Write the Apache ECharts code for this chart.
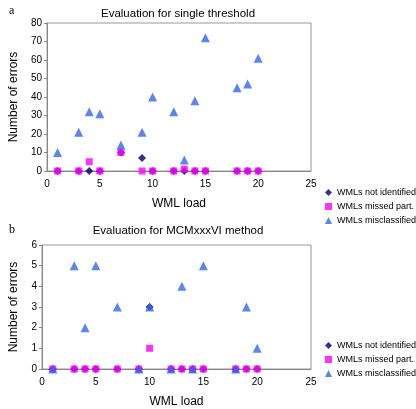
<!DOCTYPE html>
<html><head><meta charset="utf-8">
<script src="https://cdn.jsdelivr.net/npm/echarts@6/dist/echarts.min.js"></script>
<style>html,body{margin:0;padding:0;background:#fff}#c{width:416px;height:409px}</style>
</head><body><div id="c"></div>
<script>
var names = ['WMLs not identified', 'WMLs missed part.', 'WMLs misclassified'];
var loadsA = [1, 3, 4, 5, 7, 9, 10, 12, 13, 14, 15, 18, 19, 20];
var notIdentA = [0, 0, 0, 0, 10, 7, 0, 0, 0, 0, 0, 0, 0, 0];
var missedA = [0, 0, 5, 0, 10, 0, 0, 0, 1, 0, 0, 0, 0, 0];
var misclassA = [10, 21, 32, 31, 14, 21, 40, 32, 6, 38, 72, 45, 47, 61];
var loadsB = [1, 3, 4, 5, 7, 9, 10, 12, 13, 14, 15, 18, 19, 20];
var notIdentB = [0, 0, 0, 0, 0, 0, 3, 0, 0, 0, 0, 0, 0, 0];
var missedB = [0, 0, 0, 0, 0, 0, 1, 0, 0, 0, 0, 0, 0, 0];
var misclassB = [0, 5, 2, 5, 3, 0, 3, 0, 4, 0, 5, 0, 3, 1];
var titleA = 'Evaluation for single threshold';
var titleB = 'Evaluation for MCMxxxVI method';

function pairs(xs, ys) { return xs.map(function (x, i) { return [x, ys[i]]; }); }
var colors = ['#000066', '#ff00ff', '#3366ee'];
var symbols = ['diamond', 'rect', 'triangle'];
var sizes = [8, 7, 9];
var chart = echarts.init(document.getElementById('c'));
var font = 'Liberation Sans, Arial, sans-serif';
function xAx(gi) {
  return {gridIndex: gi, type: 'value', min: 0, max: 25, interval: 5,
    name: 'WML load', nameLocation: 'middle', nameGap: 27,
    nameTextStyle: {fontFamily: font, fontSize: 12, color: '#000'},
    axisLine: {lineStyle: {color: '#888'}}, axisTick: {show: false},
    axisLabel: {fontFamily: font, fontSize: 10, color: '#000'}, splitLine: {show: false}};
}
function yAx(gi, max, interval) {
  return {gridIndex: gi, type: 'value', min: 0, max: max, interval: interval,
    name: 'Number of errors', nameLocation: 'middle', nameGap: gi === 0 ? 27 : 22,
    nameTextStyle: {fontFamily: font, fontSize: 12, color: '#000'},
    axisLine: {show: true, lineStyle: {color: '#888'}}, axisTick: {show: true, length: 3, lineStyle: {color: '#888'}},
    axisLabel: {fontFamily: font, fontSize: 10, color: '#000', margin: 5}, splitLine: {show: false}};
}
var series = [];
var dataA = [notIdentA, missedA, misclassA];
var dataB = [notIdentB, missedB, misclassB];
[0, 1].forEach(function (g) {
  for (var k = 0; k < 3; k++) {
    series.push({name: names[k], type: 'scatter', xAxisIndex: g, yAxisIndex: g,
      symbol: symbols[k], symbolSize: sizes[k], itemStyle: {color: colors[k]},
      data: pairs(g === 0 ? loadsA : loadsB, (g === 0 ? dataA : dataB)[k]), z: 2 + k});
  }
});
function legend(top) {
  return {data: names.map(function (n, i) { return {name: n, icon: symbols[i]}; }),
    orient: 'vertical', left: 320, top: top, itemWidth: 7, itemHeight: 7, itemGap: 5,
    textStyle: {fontFamily: font, fontSize: 9, color: '#000'}, selectedMode: false};
}
chart.setOption({
  animation: false,
  title: [
    {text: titleA, left: 173, textAlign: 'center', top: 3, textStyle: {fontFamily: font, fontSize: 11.5, fontWeight: 'normal', color: '#000'}},
    {text: titleB, left: 173, textAlign: 'center', top: 220, textStyle: {fontFamily: font, fontSize: 11.5, fontWeight: 'normal', color: '#000'}},
    {text: 'a', left: 4, top: 0, textStyle: {fontFamily: 'Liberation Serif, serif', fontSize: 12, fontWeight: 'normal', color: '#000'}},
    {text: 'b', left: 4, top: 219, textStyle: {fontFamily: 'Liberation Serif, serif', fontSize: 12, fontWeight: 'normal', color: '#000'}}
  ],
  legend: [legend(183), legend(336)],
  grid: [
    {left: 36, top: 23, width: 275, height: 148, show: true, borderColor: '#999', borderWidth: 1},
    {left: 31, top: 245, width: 280, height: 126, show: true, borderColor: '#999', borderWidth: 1}
  ],
  xAxis: [xAx(0), xAx(1)],
  yAxis: [yAx(0, 80, 10), yAx(1, 6, 1)],
  series: series
});
</script></body></html>
